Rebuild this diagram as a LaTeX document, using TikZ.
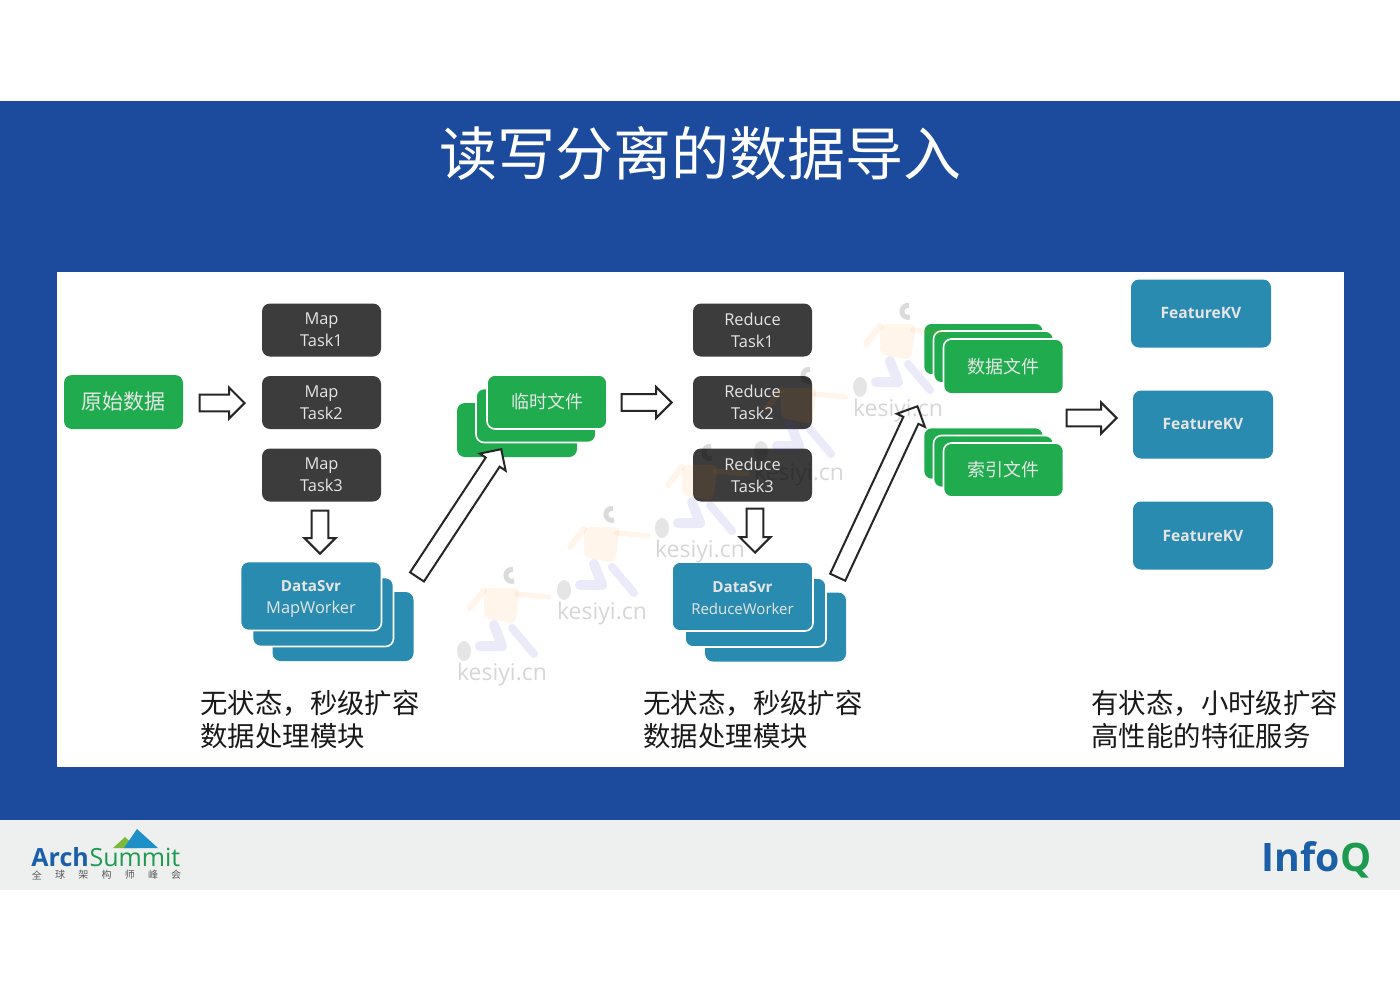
\documentclass[tikz,border=0pt]{standalone}
\usepackage{fontspec}
\setmainfont{Open Sans}
\newfontfamily\cjk{Noto Sans CJK SC}
\usetikzlibrary{shapes.arrows}
\definecolor{bandblue}{HTML}{1C4A9C}
\definecolor{footgray}{HTML}{EEEFEF}
\definecolor{boxdark}{HTML}{3C3C3C}
\definecolor{boxgreen}{HTML}{20AC4E}
\definecolor{boxteal}{HTML}{2A8BB0}
\definecolor{logoblue}{HTML}{1B5FA8}
\definecolor{logogreen}{HTML}{1E9A50}
\definecolor{peakblue}{HTML}{1E90C8}
\definecolor{peakgreen}{HTML}{7DB83A}
\newcommand{\workerhead}{{\bfseries\fontsize{7.6}{11}\selectfont DataSvr}}
\tikzset{
  box/.style={rounded corners=4pt,draw=white,line width=0.8pt,inner sep=0pt,align=center,text=white!90!black},
  taskbox/.style={box,fill=boxdark,draw=none,minimum width=59.5pt,minimum height=26.5pt,font=\fontsize{8.2}{11}\selectfont},
  greenbox/.style={box,fill=boxgreen,minimum width=60pt,minimum height=27pt,font=\cjk\fontsize{9}{11}\selectfont},
  workerbox/.style={box,fill=boxteal,minimum width=70.5pt,minimum height=34.5pt},
  workerlabel/.style={inner sep=0pt,align=center,text=white!90!black,font=\fontsize{8.2}{11}\selectfont},
  kvbox/.style={box,fill=boxteal,draw=none,minimum width=70pt,minimum height=34pt,font=\bfseries\fontsize{7.8}{10}\selectfont},
  blockarrow/.style={shape=single arrow,anchor=tip,draw=black!85,fill=white,line width=1pt,inner xsep=0pt,inner ysep=3.65pt,
    minimum width=14.5pt,single arrow head extend=3.6pt,single arrow head indent=0pt},
  caption/.style={anchor=west,align=left,inner sep=0pt,text=black!90,font=\cjk\fontsize{13.7}{16.5}\selectfont},
  wmtext/.style={text=black,text opacity=0.16,inner sep=0pt,font=\fontsize{11.5}{13}\selectfont},
  runner/.pic={
    \fill[orange,opacity=0.08,rounded corners=3pt] (-18,-87) -- (18,-87) -- (13,-51) -- (-18,-57) -- cycle;
    \draw[orange,opacity=0.08,line width=3pt,line cap=round] (-18,-85) -- (-32,-67);
    \draw[orange,opacity=0.08,line width=2.5pt,line cap=round] (15,-81) -- (47,-78);
    \draw[blue!60!gray,opacity=0.1,line width=5pt,line cap=round,line join=round] (-8,-50) -- (0,-29) -- (-22,-29);
    \draw[blue!60!gray,opacity=0.1,line width=4pt,line cap=round] (10,-47) -- (32,-21);
    \fill[black,opacity=0.1] (-38,-24) ellipse [x radius=7,y radius=10];
    \draw[black,opacity=0.14,line width=2.5pt] (12,-94) arc [start angle=70, end angle=280, radius=6];
  }
}
\begin{document}
\begin{tikzpicture}[x=0.5pt,y=-0.5pt]
  \useasboundingbox (0,0) rectangle (1400,990);
  % bands
  \fill[bandblue] (0,101) rectangle (1400,820);
  \fill[footgray] (0,820) rectangle (1400,890);
  \fill[white] (57,272) rectangle (1344,767);
  \node[text=white,inner sep=0pt,font=\cjk\fontsize{29}{33}\selectfont] (title) at (700,153) {读写分离的数据导入};

  % source
  \node[box,fill=boxgreen,draw=none,minimum width=59.5pt,minimum height=27pt,font=\cjk\fontsize{10.5}{12}\selectfont] (rawdata) at (123.5,402) {原始数据};

  % map column
  \node[taskbox] (map1) at (321.5,330) {Map\\Task1};
  \node[taskbox] (map2) at (321.5,402.5) {Map\\Task2};
  \node[taskbox] (map3) at (321.5,475) {Map\\Task3};
  \node[workerbox,draw=none] (mapworkerc) at (343,626.5) {};
  \node[workerbox] (mapworkerb) at (323,612) {};
  \node[workerbox] (mapworkera) at (311,596) {};
  \node[workerlabel] (mapworkertext) at (311,598.5) {\workerhead\\MapWorker};

  % temp files
  \node[greenbox,draw=none] (tmpc) at (517,430) {};
  \node[greenbox] (tmpb) at (536,415.5) {};
  \node[greenbox] (tmpa) at (547,402) {临时文件};

  % reduce column
  \node[taskbox] (reduce1) at (752.5,330) {Reduce\\Task1};
  \node[taskbox] (reduce2) at (752.5,402.5) {Reduce\\Task2};
  \node[taskbox] (reduce3) at (752.5,475) {Reduce\\Task3};
  \node[workerbox,draw=none] (reduceworkerc) at (775.5,627) {};
  \node[workerbox] (reduceworkerb) at (755.5,612.5) {};
  \node[workerbox] (reduceworkera) at (742.5,596.5) {};
  \node[workerlabel,font=\fontsize{7.5}{11}\selectfont] (reduceworkertext) at (742.5,598.5) {\workerhead\\ReduceWorker};

  % output files
  \node[greenbox,minimum height=26pt] (datac) at (983.5,349) {};
  \node[greenbox,minimum height=26pt] (datab) at (993.5,357) {};
  \node[greenbox,minimum height=27.5pt] (dataa) at (1003.5,366.5) {数据文件};
  \node[greenbox,minimum height=26pt] (indexc) at (983.5,453.5) {};
  \node[greenbox,minimum height=26pt] (indexb) at (993.5,461.5) {};
  \node[greenbox,minimum height=27pt] (indexa) at (1003.5,470) {索引文件};

  % kv column
  \node[kvbox] (kv1) at (1201,313.5) {FeatureKV};
  \node[kvbox] (kv2) at (1203,424.5) {FeatureKV};
  \node[kvbox] (kv3) at (1203,535.5) {FeatureKV};

  % arrows
  \node[blockarrow,minimum height=22.5pt] (toMap) at (246,403) {};
  \node[blockarrow,minimum height=25pt] (toReduce) at (673,402.5) {};
  \node[blockarrow,minimum height=25pt] (toKv) at (1118,418) {};
  \node[blockarrow,minimum height=21.5pt,rotate=-90] (toMapWorker) at (320,555) {};
  \node[blockarrow,minimum height=22pt,rotate=-90] (toReduceWorker) at (755,554) {};
  \node[blockarrow,minimum height=76.5pt,rotate=56.6] (toTmp) at (502,448) {};
  \node[blockarrow,minimum height=94.3pt,rotate=65] (toData) at (918,405) {};

  % watermarks
  \foreach \wx/\wy [count=\i] in {502/675,602/614,700/552,799/475,898/411}{
    \pic at (\wx,\wy) {runner};
    \node[wmtext] (wm\i) at (\wx,\wy) {kesiyi.cn};
  }

  % captions
  \node[caption] (capmap) at (200,719.5) {无状态，秒级扩容\\数据处理模块};
  \node[caption] (capreduce) at (643,719.5) {无状态，秒级扩容\\数据处理模块};
  \node[caption] (capkv) at (1091,719.5) {有状态，小时级扩容\\高性能的特征服务};

  % logos
  \fill[peakgreen] (113,848) -- (125,837) -- (137,848) -- cycle;
  \fill[peakblue] (124,848) -- (137,829) -- (158,848) -- cycle;
  \node[anchor=base west,inner sep=0pt,text=logoblue,font=\bfseries\fontsize{12.5}{14}\selectfont] (arch) at (31,866) {Arch};
  \node[anchor=base west,inner sep=0pt,text=logogreen,font=\fontsize{12.5}{14}\selectfont] (summit) at (arch.base east) {Summit};
  \foreach \c [count=\i from 0] in {全,球,架,构,师,峰,会}{
    \node[inner sep=0pt,text=black!65,font=\cjk\fontsize{5}{6}\selectfont] (sub\i) at (37+\i*23.2,875) {\c};
  }
  \node[anchor=base west,inner sep=0pt,text=logoblue,font=\bfseries\fontsize{19.6}{22}\selectfont] (info) at (1261,871) {Info};
  \node[anchor=base west,inner sep=0pt,text=logogreen,font=\bfseries\fontsize{19.6}{22}\selectfont] (infoq) at (info.base east) {Q};
\end{tikzpicture}
\end{document}
